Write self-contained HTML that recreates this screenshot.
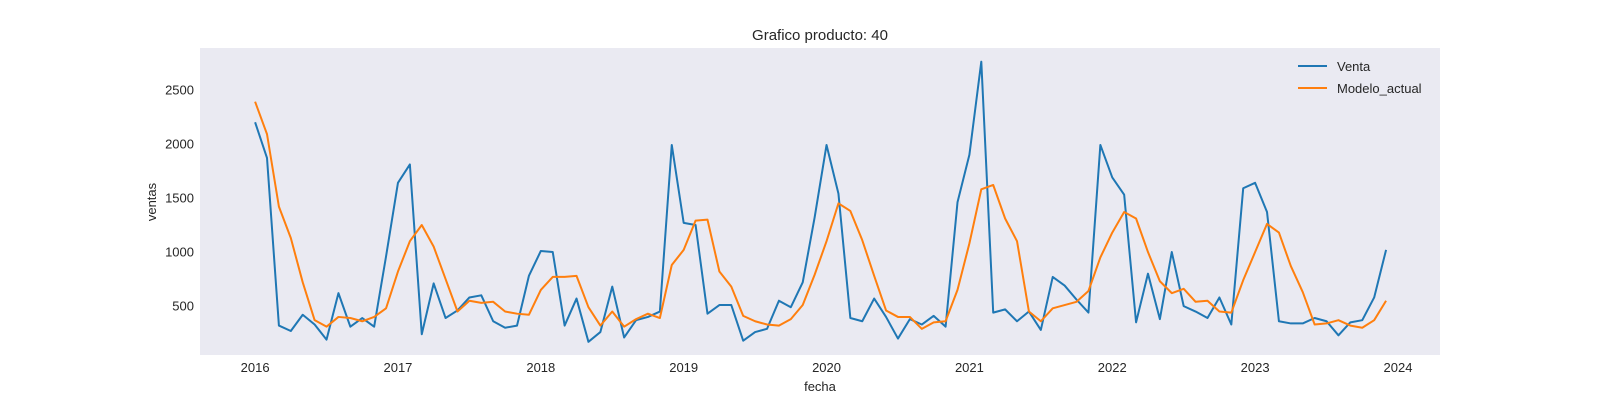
<!DOCTYPE html>
<html><head><meta charset="utf-8"><style>
html,body{margin:0;padding:0;background:#fff}
svg{display:block;font-family:"Liberation Sans",Arial,sans-serif}
</style></head><body>
<svg id="chart" width="1600" height="400">
<rect x="200" y="48" width="1240" height="307" fill="#eaeaf2"/>
<text x="820" y="40" text-anchor="middle" font-size="15" fill="#262626">Grafico producto: 40</text>
<text x="820" y="391" text-anchor="middle" font-size="13" fill="#262626">fecha</text>
<text transform="translate(156,202) rotate(-90)" text-anchor="middle" font-size="13" fill="#262626">ventas</text>
<g id="yticks"></g><g id="xticks"></g><g id="series"></g>
<g>
<line x1="1298" y1="66" x2="1327" y2="66" stroke="#1f77b4" stroke-width="2"/>
<text x="1337" y="71" font-size="13" fill="#262626">Venta</text>
<line x1="1298" y1="88" x2="1327" y2="88" stroke="#ff7f0e" stroke-width="2"/>
<text x="1337" y="93" font-size="13" fill="#262626">Modelo_actual</text>
</g>
</svg>
<script>
const startYear = 2016;
const venta = [2200,1870,320,270,420,330,190,620,310,390,310,960,
1640,1810,240,710,390,460,580,600,360,300,320,780,
1010,1000,320,570,170,260,680,210,370,400,450,1990,
1270,1250,430,510,510,180,260,290,550,490,720,1320,
1990,1540,390,360,570,400,200,380,330,410,310,1460,
1900,2760,440,470,360,450,280,770,690,560,440,1990,
1690,1530,350,800,380,1000,500,450,390,580,330,1590,
1640,1370,360,340,340,390,360,230,350,370,580,1020];
const modelo = [2390,2090,1420,1130,720,370,310,400,390,360,400,480,
820,1100,1250,1050,750,450,550,530,540,450,430,420,
650,770,770,780,490,320,450,310,380,430,390,880,
1020,1290,1300,820,680,410,360,330,320,380,510,790,
1100,1450,1380,1110,780,460,400,400,290,350,360,650,
1080,1580,1620,1310,1100,450,360,480,510,540,640,950,
1180,1370,1310,1000,730,620,660,540,550,450,440,740,
1000,1260,1180,870,630,330,340,370,320,300,370,550];
const yTicks = [500,1000,1500,2000,2500];
const xTicks = [2016,2017,2018,2019,2020,2021,2022,2023,2024];

const NS="http://www.w3.org/2000/svg";
function xPos(m){return 255.1 + m*11.905;}
function yPos(v){return 360.2 - v*0.10816;}
const yg=document.getElementById('yticks');
yTicks.forEach(v=>{
  const t=document.createElementNS(NS,'text');
  t.setAttribute('x',194);t.setAttribute('y',yPos(v)+4.5);
  t.setAttribute('text-anchor','end');t.setAttribute('font-size','13');t.setAttribute('fill','#262626');
  t.textContent=v;
  
  
  yg.appendChild(t);
});
const xg=document.getElementById('xticks');
xTicks.forEach(y=>{
  const t=document.createElementNS(NS,'text');
  t.setAttribute('x',xPos((y-startYear)*12));t.setAttribute('y',372);
  t.setAttribute('text-anchor','middle');t.setAttribute('font-size','13');t.setAttribute('fill','#262626');
  t.textContent=y;
  
  
  xg.appendChild(t);
});
const sg=document.getElementById('series');
function draw(arr,color,name){
  const p=document.createElementNS(NS,'polyline');
  p.setAttribute('points',arr.map((v,i)=>xPos(i).toFixed(2)+','+yPos(v).toFixed(2)).join(' '));
  p.setAttribute('fill','none');p.setAttribute('stroke',color);p.setAttribute('stroke-width','2');
  p.setAttribute('stroke-linejoin','round');
  
  
  sg.appendChild(p);
}
draw(venta,'#1f77b4','venta-line');
draw(modelo,'#ff7f0e','modelo-actual-line');
</script>
</body></html>
